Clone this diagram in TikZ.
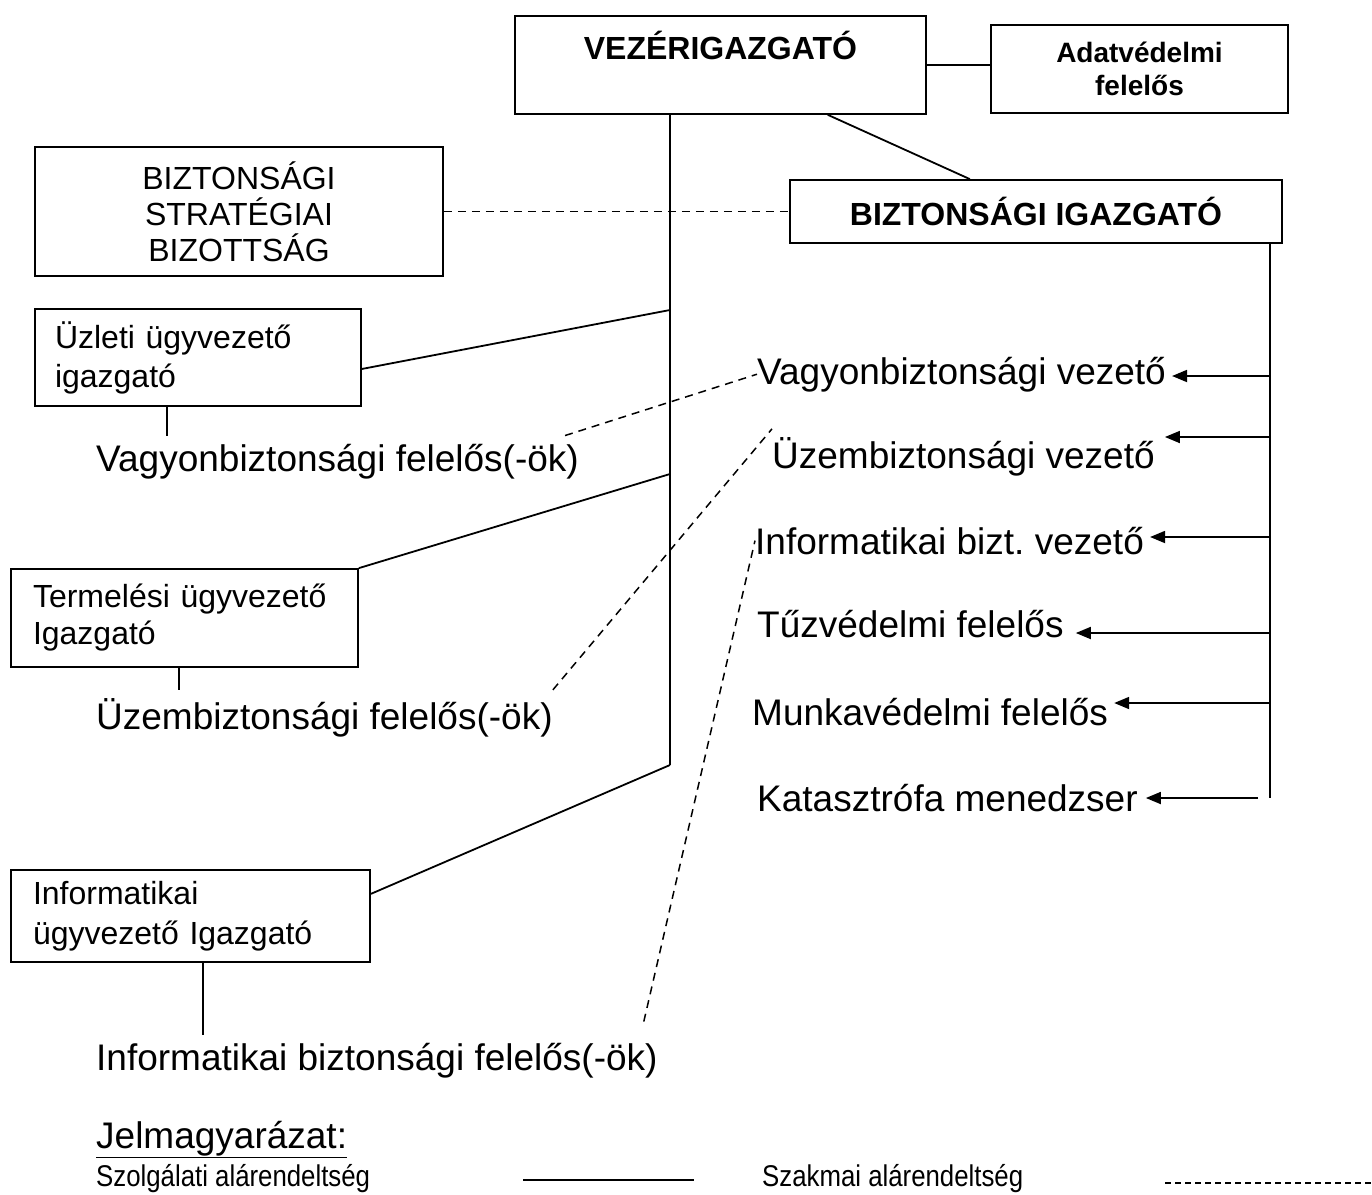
\documentclass[tikz,border=0pt]{standalone}
\usepackage{fontspec}
\setmainfont{Liberation Sans}
\newfontfamily\narrowfont[FakeStretch=0.86]{Liberation Sans}
\usetikzlibrary{calc,positioning,arrows.meta}
\newcommand\lblsize{\fontsize{37}{43}\selectfont}
\newcommand\boxsize{\fontsize{32}{39}\selectfont}
\newcommand\legsize{\narrowfont\fontsize{30}{34}\selectfont}
\frenchspacing
\tikzset{
  box/.style={draw, line width=1.8pt, inner sep=0pt},
  lbl/.style={anchor=base west, inner xsep=0pt, inner ysep=8pt, font=\lblsize},
  leg/.style={anchor=base west, inner sep=0pt, font=\legsize},
  solidln/.style={line width=1.8pt},
  dashln/.style={line width=1.5pt, dash pattern=on 8pt off 6pt},
  arr/.style={line width=1.8pt, -{Triangle[length=15pt,width=12pt]}, shorten >=6pt},
}

\begin{document}
\begin{tikzpicture}[x=1pt,y=-1pt]
\useasboundingbox (0,0) rectangle (1372,1194);

\node[box, anchor=north west, minimum width=411pt, text height=43.5pt, text depth=54.5pt, font=\boxsize\bfseries] (vez) at (514,15) {VEZÉRIGAZGATÓ};
\node[box, minimum width=297pt, minimum height=88pt, align=center, font=\fontsize{28}{33}\selectfont\bfseries] (adat) at (1139.5,69) {Adatvédelmi\\felelős};
\node[box, minimum width=492pt, minimum height=63pt, font=\boxsize\bfseries] (bigaz) at (1036,211.5) {BIZTONSÁGI IGAZGATÓ};
\node[box, minimum width=408pt, minimum height=129pt, align=center, font=\fontsize{32}{36}\selectfont] (bsb) at (239,211.5) {BIZTONSÁGI\\STRATÉGIAI\\BIZOTTSÁG};
\node[box, minimum width=326pt, minimum height=97pt, text width=286pt, align=left, font=\boxsize] (uzleti) at (198,357.5) {Üzleti ügyvezető\\igazgató};
\node[box, minimum width=347pt, minimum height=98pt, text width=303pt, align=left, font=\fontsize{32}{37}\selectfont] (termel) at (184.5,618) {Termelési ügyvezető\\Igazgató};
\node[box, minimum width=359pt, minimum height=92pt, text width=315pt, align=left, font=\fontsize{32}{40}\selectfont] (infoig) at (190.5,916) {Informatikai\\ügyvezető Igazgató};

\node[lbl] (vfel) at (96,471) {Vagyonbiztonsági felelős(-ök)};
\node[lbl] (ufel) at (96,729) {Üzembiztonsági felelős(-ök)};
\node[lbl] (ifel) at (96,1070) {Informatikai biztonsági felelős(-ök)};

\node[lbl] (vvez) at (757,384) {Vagyonbiztonsági vezető};
\node[lbl] (uvez) at (772,468) {Üzembiztonsági vezető};
\node[lbl] (ivez) at (755,554) {Informatikai bizt. vezető};
\node[lbl] (tuz) at (757,637) {Tűzvédelmi felelős};
\node[lbl] (munka) at (752,725) {Munkavédelmi felelős};
\node[lbl] (kat) at (757,811) {Katasztrófa menedzser};

\coordinate (lb) at (670,765);
\coordinate (l1) at (670,310);
\coordinate (l2) at (670,474);
\coordinate (rb) at (1270,798);

\draw[solidln] (vez.east) -- (vez.east -| adat.west);
\draw[solidln] (vez.south -| lb) -- (lb);
\draw[solidln] ($(vez.south west)!0.76!(vez.south east)$) -- ($(bigaz.north west)!0.366!(bigaz.north east)$);
\draw[dashln] (bsb.east) -- (bigaz.west);
\draw[solidln] (bigaz.south -| rb) -- (rb);

\draw[solidln] (uzleti.-4) -- (l1);
\draw[solidln] (termel.north east) -- (l2);
\draw[solidln] (infoig.7) -- (lb);

\coordinate (s1) at ($(uzleti.south west)!0.405!(uzleti.south east)$);
\coordinate (s2) at ($(termel.south west)!0.484!(termel.south east)$);
\coordinate (s3) at ($(infoig.south west)!0.535!(infoig.south east)$);
\draw[solidln] (s1) -- (s1 |- vfel.north);
\draw[solidln] (s2) -- (s2 |- ufel.north);
\draw[solidln] (s3) -- (s3 |- ifel.north);

\draw[dashln] ($(vfel.north east)+(-14,0)$) -- (vvez.west);
\draw[dashln] (ufel.north east) -- (uvez.north west);
\draw[dashln] ($(ifel.north east)+(-14,-13)$) -- (ivez.west);

\coordinate (r1) at (1270,376);
\coordinate (r2) at (1270,437);
\coordinate (r3) at (1270,537);
\coordinate (r4) at (1270,633);
\coordinate (r5) at (1270,703);
\coordinate (r6) at (1258,798);
\draw[arr] (r1) -- (r1 -| vvez.east);
\draw[arr, shorten >=10pt] (r2) -- (r2 -| uvez.east);
\draw[arr] (r3) -- (r3 -| ivez.east);
\draw[arr, shorten >=12pt] (r4) -- (r4 -| tuz.east);
\draw[arr] (r5) -- (r5 -| munka.east);
\draw[arr, shorten >=8pt] (r6) -- (r6 -| kat.east);

\node[anchor=base west, inner sep=0pt, font=\lblsize] (jelm) at (96,1148) {\underline{Jelmagyarázat:}};
\node[leg] (szolg) at (96,1186) {Szolgálati alárendeltség};
\node[leg] (szakm) at (762,1186) {Szakmai alárendeltség};
\coordinate (sl1) at (523,1180);
\coordinate (sl2) at (694,1180);
\coordinate (dl1) at (1165,1183);
\coordinate (dl2) at (1372,1183);
\draw[solidln] (sl1) -- (sl2);
\draw[line width=1.2pt, dash pattern=on 6pt off 4pt] (dl1) -- (dl2);
\end{tikzpicture}
\end{document}
